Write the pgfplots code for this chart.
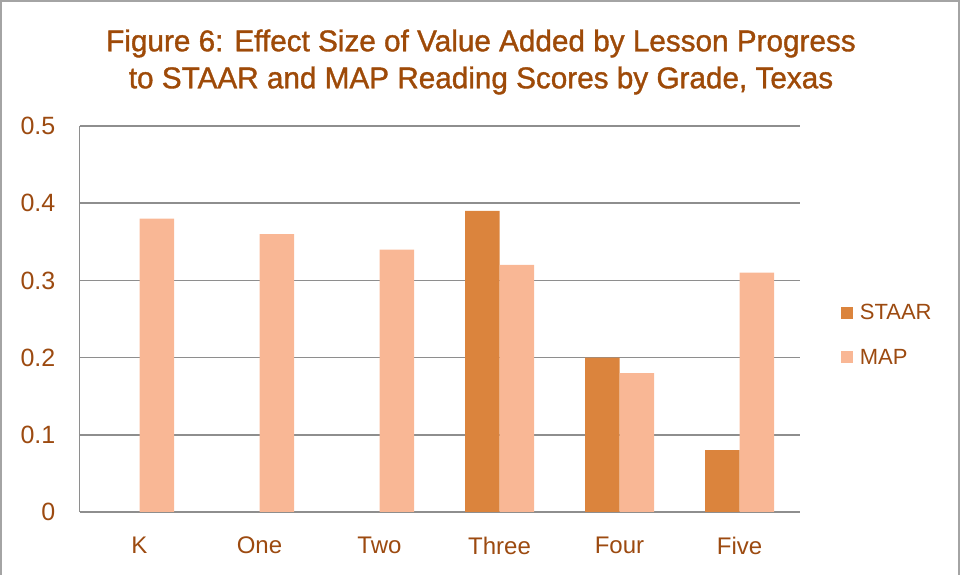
\documentclass[border=0pt]{standalone}
\usepackage{pgfplots}
\pgfplotsset{compat=1.18}
\usepackage{fontspec}
\setmainfont{Liberation Sans}
\newfontfamily\titlefont[FakeStretch=0.99,FakeBold=1.2]{Liberation Sans}
\definecolor{titlebrown}{HTML}{9E4A08}
\definecolor{labelbrown}{HTML}{9C4A10}
\definecolor{staar}{HTML}{DB843D}
\definecolor{map}{HTML}{F9B795}
\definecolor{gridgray}{HTML}{8E8E8E}
\begin{document}
\begin{tikzpicture}
\path[use as bounding box] (0,0) rectangle (961bp,575bp);
\draw[gridgray!80, line width=2bp] (1bp,0) -- (1bp,574bp) -- (959bp,574bp) -- (959bp,0);
\node[align=center, text=titlebrown, font={\titlefont\fontsize{30bp}{37bp}\selectfont}] at (481bp,513bp)
  {Figure 6: Effect Size of Value Added by Lesson Progress\\to STAAR and MAP Reading Scores by Grade, Texas};
\begin{axis}[
  at={(79.5bp,63bp)}, anchor=south west,
  scale only axis, width=720bp, height=386bp,
  ybar=0pt, bar width=34.5bp,
  xmin=-0.5, xmax=5.5, ymin=0, ymax=0.5,
  xtick={0,1,2,3,4,5},
  xticklabels={K,One,Two,Three,Four,Five},
  ytick={0,0.1,0.2,0.3,0.4,0.5},
  yticklabels={0,0.1,0.2,0.3,0.4,0.5},
  major tick length=0pt,
  axis x line*=bottom, axis y line*=left,
  axis line style={-, draw=gridgray, line width=1.5bp},
  ymajorgrids, major grid style={draw=gridgray, line width=1.5bp},
  yticklabel style={font=\fontsize{25bp}{30bp}\selectfont, text=labelbrown, inner sep=0pt, xshift=-24bp},
  xticklabel style={font=\fontsize{24bp}{29bp}\selectfont, text=labelbrown, inner sep=0pt, anchor=north, yshift=-25bp},
  legend style={at={(1.053,0.459)}, anchor=west, draw=none, fill=none,
    font=\fontsize{22bp}{26bp}\selectfont, text=labelbrown, row sep=24bp,
    /tikz/every odd column/.append style={column sep=5bp}},
  legend cell align=left,
  legend image code/.code={\fill[#1] (0bp,-6bp) rectangle (12bp,6bp);},
]
\addplot[fill=staar, draw=none] coordinates {(0,0) (1,0) (2,0) (3,0.39) (4,0.20) (5,0.08)};
\addplot[fill=map, draw=none] coordinates {(0,0.38) (1,0.36) (2,0.34) (3,0.32) (4,0.18) (5,0.31)};
\legend{STAAR,MAP}
\end{axis}
\end{tikzpicture}
\end{document}
